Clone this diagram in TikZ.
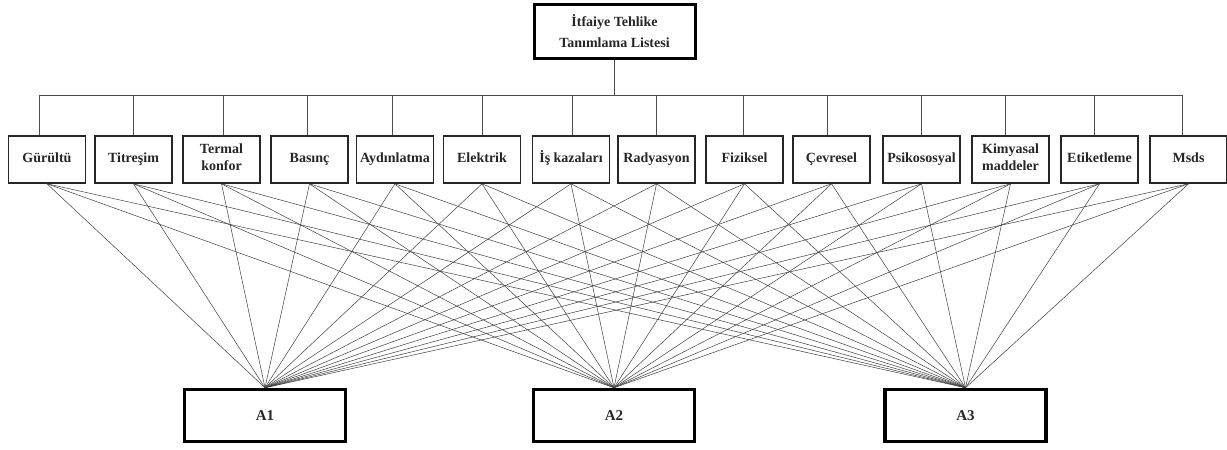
\documentclass[tikz,border=0pt]{standalone}
\usepackage{fontspec}
\setmainfont{Liberation Serif}
\begin{document}
\begin{tikzpicture}[x=1pt,y=-1pt,
  hbox/.style={draw=black!85, line width=1.6pt, minimum width=77pt, minimum height=47pt, inner sep=1pt, align=center, font=\fontsize{14}{17}\selectfont\bfseries, text=black!85, execute at begin node=\strut},
  topbox/.style={draw=black, line width=3pt, minimum width=161pt, minimum height=54pt, align=center, font=\fontsize{14}{21}\selectfont\bfseries, text=black!85},
  abox/.style={draw=black, line width=3.5pt, minimum width=161pt, minimum height=52pt, font=\fontsize{15}{17}\selectfont\bfseries, text=black!85},
  tree/.style={draw=black!70, line width=0.8pt},
  link/.style={draw=black!75, line width=0.5pt}]
\useasboundingbox (0,0) rectangle (1227,450);
\fill[white] (0,0) rectangle (1227,450);
\node[topbox] (top) at (614.5,31) {İtfaiye Tehlike\\Tanımlama Listesi};
\node[hbox] (b1) at (47,159.5) {Gürültü};
\node[hbox] (b2) at (133.5,159.5) {Titreşim};
\node[hbox] (b3) at (221.5,159.5) {Termal\\konfor};
\node[hbox] (b4) at (309.5,159.5) {Basınç};
\node[hbox] (b5) at (395,159.5) {Aydınlatma};
\node[hbox] (b6) at (482,159.5) {Elektrik};
\node[hbox] (b7) at (571,159.5) {İş kazaları};
\node[hbox] (b8) at (656.5,159.5) {Radyasyon};
\node[hbox] (b9) at (744.5,159.5) {Fiziksel};
\node[hbox] (b10) at (831.5,159.5) {Çevresel};
\node[hbox] (b11) at (921.5,159.5) {Psikososyal};
\node[hbox] (b12) at (1010.5,159.5) {Kimyasal\\maddeler};
\node[hbox] (b13) at (1099.5,159.5) {Etiketleme};
\node[hbox] (b14) at (1188.5,159.5) {Msds};
\node[abox] (a1) at (265,415.5) {A1};
\node[abox] (a2) at (614,415.5) {A2};
\node[abox] (a3) at (965.5,415.5) {A3};
\coordinate (bus) at (0,95);
\draw[tree] (top.south) -- (top.south |- bus);
\draw[tree] ([xshift=-8pt]b1.north |- bus) -- ([xshift=-6.5pt]b14.north |- bus);
\foreach \i/\d in {1/-8,2/0,3/1.5,4/-2.5,5/-3,6/0,7/1,8/0,9/-1.5,10/-4.5,11/0,12/-5.5,13/-5.5,14/-6.5}{
  \draw[tree] ([xshift=\d pt]b\i.north) -- ([xshift=\d pt]b\i.north |- bus);
  \foreach \a in {1,2,3}{
    \draw[link] (b\i.south) -- (a\a.north);
  }
}
\end{tikzpicture}
\end{document}
